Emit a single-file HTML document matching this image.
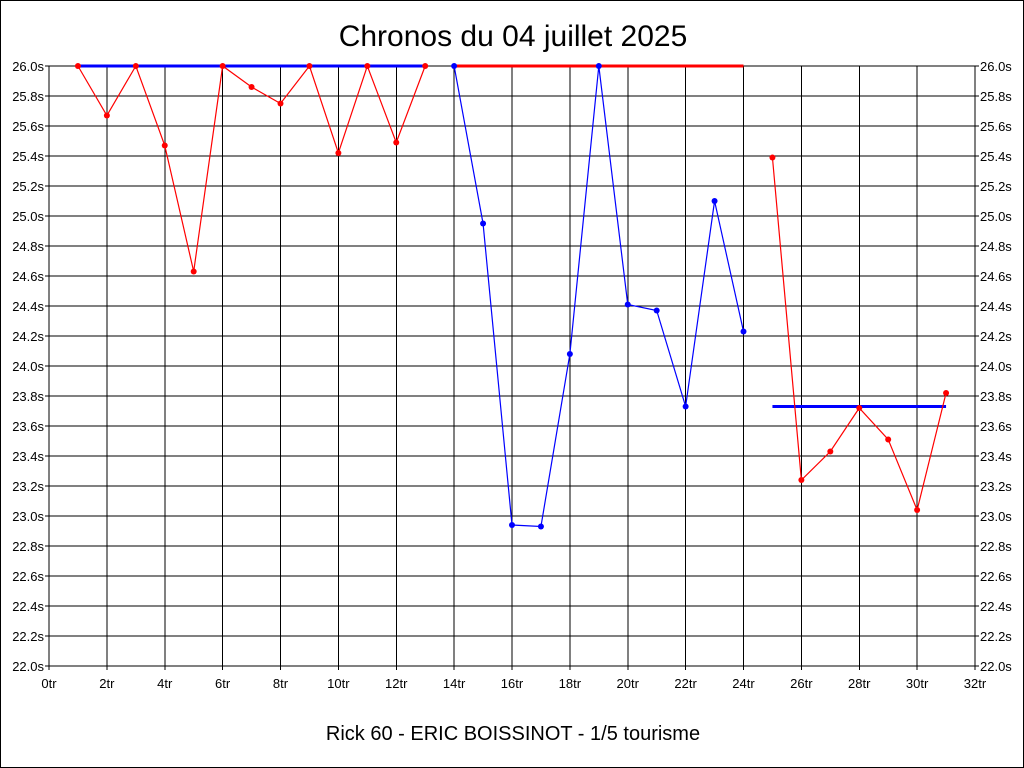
<!DOCTYPE html>
<html><head><meta charset="utf-8"><style>
html,body{margin:0;padding:0;background:#fff}
svg{display:block;font-family:"Liberation Sans",sans-serif}
</style></head><body>
<svg width="1024" height="768" xmlns="http://www.w3.org/2000/svg">
<rect x="0.5" y="0.5" width="1023" height="767" fill="#fff" stroke="#000"/>
<text x="513" y="46" font-size="30" text-anchor="middle">Chronos du 04 juillet 2025</text>
<text x="513" y="740" font-size="20" text-anchor="middle">Rick 60 - ERIC BOISSINOT - 1/5 tourisme</text>
<g id="grid" stroke="#000" stroke-width="1" shape-rendering="crispEdges"></g>
<g id="labels" font-size="13"></g>
<g id="data"></g>
</svg>
<script>
var L=49,R=975,T=66,B=666;
function X(t){return L+(R-L)*t/32}
function Y(v){return B-(v-22)*150}
var ns="http://www.w3.org/2000/svg";
function el(p,n,a,txt){var e=document.createElementNS(ns,n);for(var k in a)e.setAttribute(k,a[k]);if(txt!=null)e.textContent=txt;p.appendChild(e);return e}
var g=document.getElementById('grid'),lb=document.getElementById('labels'),d=document.getElementById('data');
el(g,'rect',{x:L,y:T,width:R-L,height:B-T,fill:'none'});
for(var i=0;i<=20;i++){var v=22+i*0.2,y=Y(v);
 el(g,'line',{x1:L-4,x2:R+4,y1:y,y2:y});
 el(lb,'text',{x:L-5,y:y+5,'text-anchor':'end'},v.toFixed(1)+'s');
 el(lb,'text',{x:R+5,y:y+5},v.toFixed(1)+'s');}
for(var t=0;t<=32;t+=2){var x=X(t);
 el(g,'line',{x1:x,x2:x,y1:T,y2:B+4});
 el(lb,'text',{x:x,y:B+22,'text-anchor':'middle'},t+'tr');}
function series(start,vals,col){var pts=vals.map(function(v,i){return X(start+i)+','+Y(v)}).join(' ');
 el(d,'polyline',{points:pts,fill:'none',stroke:col,'stroke-width':1.2});
 vals.forEach(function(v,i){el(d,'circle',{cx:X(start+i),cy:Y(v),r:3,fill:col})});}
function hl(a,b,v,col){el(d,'line',{x1:X(a),x2:X(b),y1:Y(v),y2:Y(v),stroke:col,'stroke-width':3})}
hl(1,13,26,'#00f');hl(14,24,26,'#f00');hl(25,31,23.73,'#00f');
series(1,[26,25.67,26,25.47,24.63,26,25.86,25.75,26,25.42,26,25.49,26],'#f00');
series(14,[26,24.95,22.94,22.93,24.08,26,24.41,24.37,23.73,25.10,24.23],'#00f');
series(25,[25.39,23.24,23.43,23.72,23.51,23.04,23.82],'#f00');
</script>
</body></html>
